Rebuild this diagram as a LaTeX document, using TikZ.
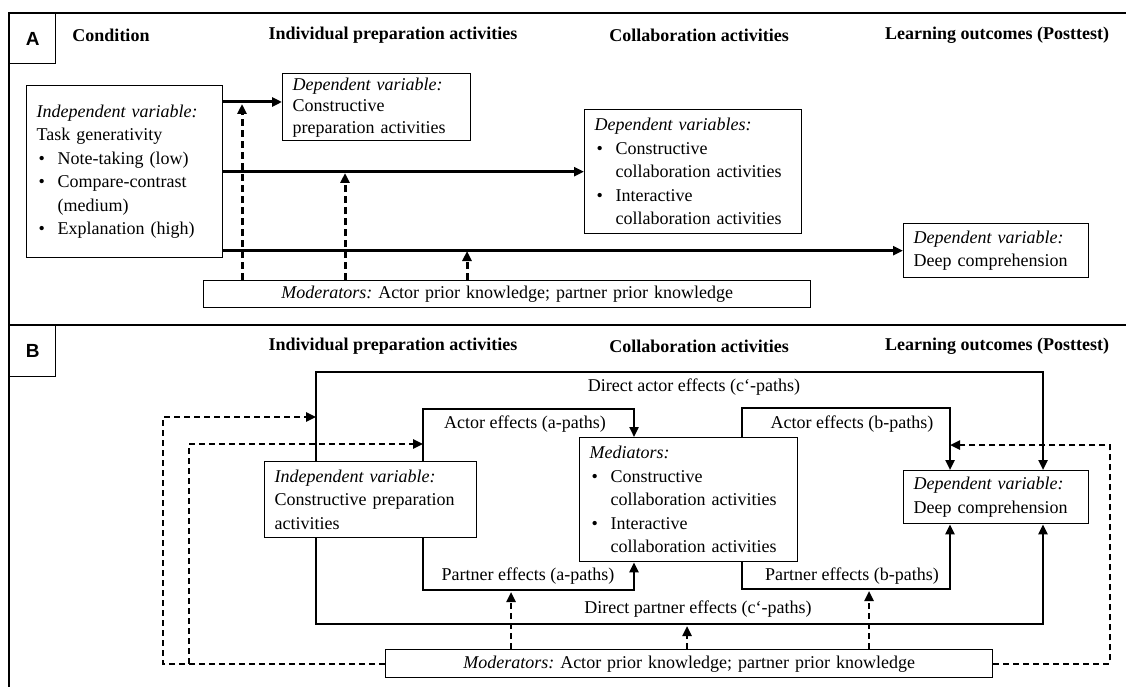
\documentclass[tikz,border=0pt]{standalone}
\usepackage{fontspec}
\setmainfont{Liberation Serif}
\newfontfamily\panelfont{Liberation Sans}
\usetikzlibrary{arrows.meta,calc}
\frenchspacing
\newcommand{\bodyfs}{\fontsize{18}{23.5}\selectfont}
\newcommand{\headfs}{\fontsize{18}{22}\selectfont\bfseries}
\newcommand{\bul}{\makebox[21pt][l]{\hspace{2pt}\textbullet}}
\newcommand{\bulskip}{\hspace*{21pt}}

\begin{document}
\begin{tikzpicture}[x=1pt,y=-1pt,
  box/.style={draw,line width=1.4pt,anchor=north west,align=left,inner xsep=10pt,inner ysep=2pt,font=\bodyfs},
  head/.style={font=\headfs},
  lbl/.style={font=\bodyfs,inner sep=0pt},
  tag/.style={draw,line width=1.4pt,anchor=north west,minimum width=46pt,minimum height=50pt,font=\panelfont\fontsize{19}{19}\selectfont\bfseries},
  effA/.style={line width=3pt,-{Triangle[length=10pt,width=9pt]}},
  modA/.style={effA,dash pattern=on 7pt off 4pt},
  eff/.style={line width=2.3pt,-{Triangle[length=10pt,width=9pt]}},
  mod/.style={eff,line width=2.4pt,dash pattern=on 6pt off 4pt}]
\useasboundingbox (0,0) rectangle (1126,687);
% frame
\draw[line width=1.4pt] (1126,13) -- (9,13) -- (9,687);
\draw[line width=1.4pt] (9,325) -- (1126,325);
\node[tag] (tagA) at (9,13) {A};
\node[tag,minimum height=51pt] (tagB) at (9,325) {B};

% Panel A
\node[head] (condA) at (111,35) {Condition};
\node[head] (prepA) at (393,35) {Individual preparation activities};
\node[head] (collA) at (699,35) {Collaboration activities};
\node[head] (outA) at (997,35) {Learning outcomes (Posttest)};

\node[box,text width=176pt,minimum height=172pt] (indA) at (26,85) {\textit{Independent variable:}\\Task generativity\\\bul Note-taking (low)\\\bul Compare-contrast\\\bulskip(medium)\\\bul Explanation (high)};
\node[box,text width=168pt,minimum height=67pt,font=\fontsize{18}{21.5}\selectfont] (depA1) at (282,73) {\textit{Dependent variable:}\\Constructive\\preparation activities};
\node[box,text width=197pt,minimum height=124pt] (depA2) at (584,109) {\textit{Dependent variables:}\\\bul Constructive\\\bulskip collaboration activities\\\bul Interactive\\\bulskip collaboration activities};
\node[box,text width=165pt,minimum height=54pt] (deepA) at (903,223) {\textit{Dependent variable:}\\Deep comprehension};
\node[box,align=center,text width=587pt,minimum height=27pt,inner ysep=0pt] (modA) at (203,280) {\textit{Moderators:} Actor prior knowledge; partner prior knowledge};

\coordinate (tA1) at (282,102);
\draw[effA] (indA.east |- tA1) -- (tA1);
\draw[effA] (indA.east |- depA2.west) -- (depA2.west);
\draw[effA] (indA.east |- deepA.west) -- (deepA.west);

\coordinate (mA1) at (242,104);
\coordinate (mA2) at (345,173);
\coordinate (mA3) at (467,251);
\draw[modA] (modA.north -| mA1) -- (mA1);
\draw[modA] (modA.north -| mA2) -- (mA2);
\draw[modA] (modA.north -| mA3) -- (mA3);

% Panel B
\node[head] (prepB) at (393,346) {Individual preparation activities};
\node[head] (collB) at (699,346) {Collaboration activities};
\node[head] (outB) at (997,346) {Learning outcomes (Posttest)};

\node[box,text width=192pt,minimum height=76pt] (indB) at (264,461) {\textit{Independent variable:}\\Constructive preparation\\activities};
\node[box,text width=198pt,minimum height=124pt] (medB) at (579,437) {\textit{Mediators:}\\\bul Constructive\\\bulskip collaboration activities\\\bul Interactive\\\bulskip collaboration activities};
\node[box,text width=165pt,minimum height=53pt] (deepB) at (903,470) {\textit{Dependent variable:}\\Deep comprehension};
\node[box,align=center,text width=587pt,minimum height=28pt,inner ysep=0pt] (modB) at (385,649) {\textit{Moderators:} Actor prior knowledge; partner prior knowledge};

% direct effects (c'-paths)
\coordinate (cTL) at (316,372);
\coordinate (cTR) at (1043,372);
\coordinate (cBL) at (316,624);
\coordinate (cBR) at (1043,624);
\draw[eff] (indB.north -| cTL) -- (cTL) -- (cTR) -- (deepB.north -| cTR);
\draw[eff] (indB.south -| cBL) -- (cBL) -- (cBR) -- (deepB.south -| cBR);

% a-paths
\coordinate (aTL) at (423,409);
\coordinate (aTR) at (634,409);
\coordinate (aBL) at (423,590);
\coordinate (aBR) at (634,590);
\draw[eff] (indB.north -| aTL) -- (aTL) -- (aTR) -- (medB.north -| aTR);
\draw[eff] (indB.south -| aBL) -- (aBL) -- (aBR) -- (medB.south -| aBR);

% b-paths
\coordinate (bTL) at (742,408);
\coordinate (bTR) at (950,408);
\coordinate (bBL) at (742,589);
\coordinate (bBR) at (950,589);
\draw[eff] (medB.north -| bTL) -- (bTL) -- (bTR) -- (deepB.north -| bTR);
\draw[eff] (medB.south -| bBL) -- (bBL) -- (bBR) -- (deepB.south -| bBR);

\node[lbl] (cAct) at (694,387) {Direct actor effects (c\textquoteleft-paths)};
\node[lbl] (aAct) at (525,424) {Actor effects (a-paths)};
\node[lbl] (aPar) at (528,576) {Partner effects (a-paths)};
\node[lbl] (bAct) at (852,424) {Actor effects (b-paths)};
\node[lbl] (bPar) at (852,576) {Partner effects (b-paths)};
\node[lbl] (cPar) at (698,609) {Direct partner effects (c\textquoteleft-paths)};

% moderator arrows
\coordinate (mB1) at (511,592);
\coordinate (mB2) at (687,626);
\coordinate (mB3) at (869,591);
\draw[mod] (modB.north -| mB1) -- (mB1);
\draw[mod] (modB.north -| mB2) -- (mB2);
\draw[mod] (modB.north -| mB3) -- (mB3);

\coordinate (fOut) at (163,417);
\coordinate (fIn) at (189,444);
\coordinate (fRt) at (1110,445);
\draw[mod] (modB.west) -| (fOut) -- (cTL |- fOut);
\draw[mod] (modB.west -| fIn) -- (fIn) -- (aTL |- fIn);
\draw[mod] (modB.east) -| (fRt) -- (bTR |- fRt);
\end{tikzpicture}
\end{document}
